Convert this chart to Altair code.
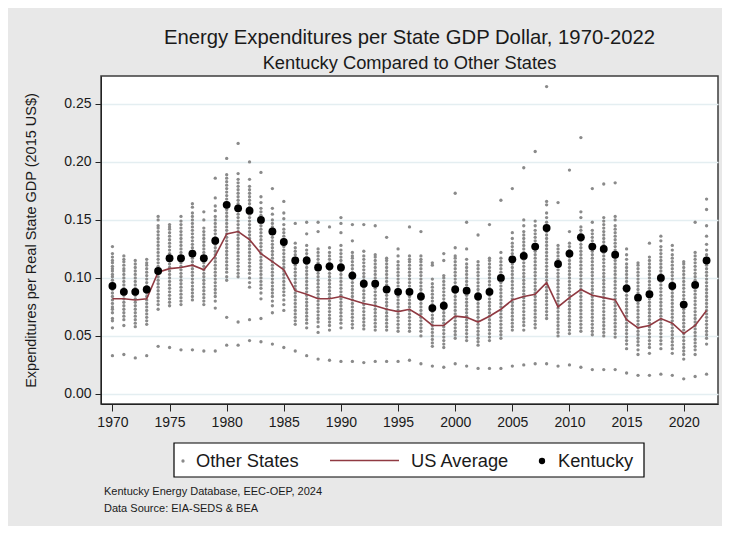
import altair as alt
import pandas as pd

FONT = "Liberation Sans"

years = list(range(1970, 2023))

kentucky = [0.093, 0.088, 0.088, 0.090, 0.106, 0.117, 0.117, 0.121, 0.117, 0.132,
            0.163, 0.160, 0.158, 0.150, 0.140, 0.131, 0.115, 0.115, 0.109, 0.110,
            0.109, 0.102, 0.095, 0.095, 0.090, 0.088, 0.088, 0.084, 0.074, 0.076,
            0.090, 0.089, 0.084, 0.088, 0.100, 0.116, 0.119, 0.127, 0.143, 0.112,
            0.121, 0.135, 0.127, 0.125, 0.120, 0.091, 0.083, 0.086, 0.100, 0.093,
            0.077, 0.094, 0.115]

us_average = [0.082, 0.082, 0.081, 0.082, 0.105, 0.108, 0.109, 0.111, 0.107, 0.119,
              0.138, 0.140, 0.133, 0.121, 0.114, 0.107, 0.089, 0.086, 0.082, 0.082,
              0.084, 0.081, 0.078, 0.076, 0.073, 0.071, 0.073, 0.067, 0.059, 0.059,
              0.067, 0.066, 0.062, 0.067, 0.073, 0.081, 0.084, 0.086, 0.096, 0.075,
              0.083, 0.090, 0.085, 0.083, 0.081, 0.064, 0.057, 0.059, 0.065, 0.061,
              0.052, 0.059, 0.072]

# Other states, values in thousandths of a dollar, one list per year
others_1970s = [
    [33, 57, 63, 65, 70, 73, 75, 78, 81, 84, 87, 90, 93, 95, 98, 101, 103, 106, 108, 110, 113, 115, 118, 121, 127],
    [34, 59, 64, 67, 70, 73, 76, 79, 82, 85, 88, 91, 94, 97, 100, 103, 106, 108, 111, 114, 116, 119],
    [31, 58, 61, 64, 67, 70, 73, 76, 79, 82, 85, 88, 91, 94, 97, 100, 103, 106, 109, 112, 115],
    [33, 60, 63, 66, 69, 72, 75, 78, 81, 84, 87, 90, 93, 96, 99, 102, 105, 108, 111, 113, 116],
    [41, 73, 77, 80, 83, 86, 89, 92, 95, 98, 101, 104, 107, 110, 113, 116, 119, 122, 125, 128, 131, 134, 137, 140, 143, 145, 150, 153],
    [40, 76, 79, 82, 85, 88, 91, 94, 97, 100, 103, 106, 109, 112, 115, 118, 121, 124, 127, 130, 133, 136, 139, 142, 144, 146],
    [38, 77, 80, 83, 86, 89, 92, 95, 98, 101, 104, 107, 110, 113, 116, 119, 122, 125, 128, 131, 134, 137, 140, 143, 146, 149, 153],
    [38, 81, 84, 87, 90, 93, 96, 99, 102, 105, 108, 111, 114, 117, 120, 123, 126, 129, 132, 135, 138, 141, 144, 147, 150, 153, 156, 161, 164],
    [37, 77, 80, 83, 86, 89, 92, 95, 98, 101, 104, 107, 110, 113, 116, 119, 122, 125, 128, 131, 134, 137, 140, 143, 150, 157],
    [37, 74, 80, 84, 87, 90, 93, 96, 99, 102, 105, 108, 111, 114, 117, 120, 123, 126, 129, 132, 135, 138, 141, 144, 147, 150, 153, 158, 162, 169, 186],
]
others_1980s = [
    [42, 66, 98, 101, 105, 108, 111, 114, 117, 120, 123, 126, 129, 132, 135, 138, 141, 144, 147, 150, 153, 156, 159, 162, 165, 168, 171, 174, 177, 180, 183, 186, 189, 203],
    [42, 62, 101, 104, 107, 110, 113, 116, 119, 122, 125, 128, 131, 134, 137, 140, 143, 146, 149, 152, 155, 158, 161, 164, 167, 170, 173, 176, 179, 182, 185, 190, 216],
    [46, 64, 92, 96, 100, 104, 107, 110, 113, 116, 119, 122, 125, 128, 131, 134, 137, 140, 143, 146, 149, 152, 155, 158, 161, 164, 167, 170, 173, 176, 179, 185, 200],
    [45, 65, 82, 87, 91, 94, 97, 100, 103, 106, 109, 112, 115, 118, 121, 124, 127, 130, 133, 136, 139, 142, 145, 148, 151, 154, 157, 160, 165, 170, 191],
    [43, 70, 76, 80, 84, 87, 90, 93, 96, 99, 102, 105, 108, 111, 114, 117, 120, 123, 126, 129, 132, 135, 138, 141, 144, 147, 150, 155, 160, 177],
    [40, 72, 77, 81, 85, 88, 91, 94, 97, 100, 103, 106, 109, 112, 115, 118, 121, 124, 127, 130, 133, 136, 139, 142, 146, 151, 156, 166],
    [37, 60, 63, 66, 69, 72, 75, 78, 81, 84, 87, 90, 93, 96, 99, 102, 105, 108, 111, 114, 117, 120, 123, 126, 130, 147],
    [33, 57, 61, 64, 67, 70, 73, 76, 79, 82, 85, 88, 91, 94, 97, 100, 103, 106, 109, 112, 115, 118, 121, 124, 128, 138, 148],
    [30, 53, 58, 62, 65, 68, 71, 74, 77, 80, 83, 86, 89, 92, 95, 98, 101, 104, 107, 110, 113, 116, 119, 122, 125, 140, 148],
    [29, 55, 59, 62, 65, 68, 71, 74, 77, 80, 83, 86, 89, 92, 95, 98, 101, 104, 107, 110, 113, 116, 119, 122, 126, 144],
]
others_1990s = [
    [28, 57, 61, 64, 67, 70, 73, 76, 79, 82, 85, 88, 91, 94, 97, 100, 103, 106, 109, 112, 115, 118, 121, 124, 128, 139, 147, 152],
    [28, 57, 60, 63, 66, 69, 72, 75, 78, 81, 84, 87, 90, 93, 96, 99, 102, 105, 108, 111, 114, 117, 119, 122, 132, 146],
    [27, 56, 59, 62, 65, 68, 71, 74, 77, 80, 83, 86, 89, 92, 95, 98, 101, 104, 107, 110, 113, 116, 119, 123, 146],
    [28, 55, 58, 61, 64, 67, 70, 73, 76, 79, 82, 85, 88, 91, 94, 97, 100, 103, 106, 109, 112, 115, 118, 120, 145],
    [28, 55, 58, 61, 64, 67, 70, 73, 76, 79, 82, 85, 88, 91, 94, 97, 100, 103, 106, 109, 112, 115, 117, 135],
    [28, 54, 57, 60, 63, 66, 69, 72, 75, 78, 81, 84, 87, 90, 93, 96, 99, 102, 105, 108, 111, 114, 119, 125],
    [29, 54, 57, 60, 63, 66, 69, 72, 75, 78, 81, 84, 87, 90, 93, 96, 99, 102, 105, 108, 111, 114, 116, 119, 144],
    [26, 50, 54, 57, 60, 63, 66, 69, 72, 75, 78, 81, 84, 87, 90, 93, 96, 99, 102, 105, 108, 111, 114, 116, 119, 140],
    [24, 41, 44, 47, 50, 53, 56, 59, 62, 65, 68, 71, 74, 77, 80, 83, 86, 89, 92, 95, 99, 111, 113],
    [23, 40, 43, 46, 49, 52, 55, 58, 61, 64, 67, 70, 73, 76, 79, 82, 85, 88, 91, 94, 97, 100, 102, 115, 121],
]
others_2000s = [
    [26, 48, 51, 54, 57, 60, 63, 66, 69, 72, 75, 78, 81, 84, 87, 90, 93, 96, 99, 102, 105, 108, 111, 114, 117, 119, 126, 173],
    [24, 46, 49, 52, 55, 58, 61, 64, 67, 70, 73, 76, 79, 82, 85, 88, 91, 94, 97, 100, 103, 106, 109, 112, 116, 125, 148],
    [22, 42, 45, 48, 51, 54, 57, 60, 63, 66, 69, 72, 75, 78, 81, 84, 87, 90, 93, 96, 99, 102, 105, 108, 111, 114, 137],
    [22, 46, 49, 52, 55, 58, 61, 64, 67, 70, 73, 76, 79, 82, 85, 88, 91, 94, 97, 100, 103, 106, 109, 112, 115, 117, 146],
    [22, 48, 51, 54, 57, 60, 63, 66, 69, 72, 75, 78, 81, 84, 87, 90, 93, 96, 99, 102, 105, 108, 111, 114, 117, 122, 167],
    [24, 55, 58, 61, 64, 67, 70, 73, 76, 79, 82, 85, 88, 91, 94, 97, 100, 103, 106, 109, 112, 115, 118, 121, 124, 127, 130, 134, 139, 177],
    [25, 55, 59, 62, 65, 68, 71, 74, 77, 80, 83, 86, 89, 92, 95, 98, 101, 104, 107, 110, 113, 116, 119, 122, 125, 128, 131, 134, 137, 140, 145, 150, 195],
    [26, 57, 60, 63, 66, 69, 72, 75, 78, 81, 84, 87, 90, 93, 96, 99, 102, 105, 108, 111, 114, 117, 120, 123, 126, 129, 132, 135, 138, 141, 145, 149, 209],
    [26, 65, 68, 71, 74, 77, 80, 83, 86, 89, 92, 95, 98, 101, 104, 107, 110, 113, 116, 119, 122, 125, 128, 131, 134, 137, 140, 144, 148, 152, 156, 163, 166, 265],
    [24, 50, 53, 56, 59, 62, 65, 68, 71, 74, 77, 80, 83, 86, 89, 92, 95, 98, 101, 104, 107, 110, 113, 116, 119, 122, 125, 128, 165],
]
others_2010s = [
    [25, 52, 55, 58, 61, 64, 67, 70, 73, 76, 79, 82, 85, 88, 91, 94, 97, 100, 103, 106, 109, 112, 115, 118, 121, 124, 127, 130, 140, 193],
    [23, 54, 57, 60, 63, 66, 69, 72, 75, 78, 81, 84, 87, 90, 93, 96, 99, 102, 105, 108, 111, 114, 117, 120, 123, 126, 129, 132, 135, 138, 141, 144, 152, 157, 221],
    [21, 51, 54, 57, 60, 63, 66, 69, 72, 75, 78, 81, 84, 87, 90, 93, 96, 99, 102, 105, 108, 111, 114, 117, 120, 123, 126, 129, 132, 135, 138, 141, 148, 177],
    [21, 50, 53, 56, 59, 62, 65, 68, 71, 74, 77, 80, 83, 86, 89, 92, 95, 98, 101, 104, 107, 110, 113, 116, 119, 122, 125, 128, 131, 134, 137, 140, 143, 146, 149, 152, 181],
    [21, 49, 52, 55, 58, 61, 64, 67, 70, 73, 76, 79, 82, 85, 88, 91, 94, 97, 100, 103, 106, 109, 112, 115, 118, 121, 124, 127, 130, 133, 136, 139, 142, 145, 150, 153, 182],
    [18, 39, 43, 46, 49, 52, 55, 58, 61, 64, 67, 70, 73, 76, 79, 82, 85, 88, 91, 94, 97, 100, 103, 106, 109, 112, 116, 120, 125],
    [16, 34, 38, 42, 45, 48, 51, 54, 57, 60, 63, 66, 69, 72, 75, 78, 81, 84, 87, 90, 93, 96, 99, 102, 105, 108, 111, 113],
    [16, 35, 40, 43, 46, 49, 52, 55, 58, 61, 64, 67, 70, 73, 76, 79, 82, 85, 88, 91, 94, 97, 100, 103, 106, 109, 112, 115, 118, 130],
    [17, 39, 43, 46, 49, 52, 55, 58, 61, 64, 67, 70, 73, 76, 79, 82, 85, 88, 91, 94, 97, 100, 103, 106, 109, 112, 115, 118, 121, 124, 127, 132, 136],
    [16, 35, 39, 42, 45, 48, 51, 54, 57, 60, 63, 66, 69, 72, 75, 78, 81, 84, 87, 90, 93, 96, 99, 102, 105, 108, 111, 114, 117, 120, 124, 128],
]
others_2020s = [
    [13, 30, 34, 37, 40, 43, 46, 49, 52, 55, 58, 61, 64, 67, 70, 73, 76, 79, 82, 85, 88, 91, 94, 97, 100, 103, 106, 109, 112, 114],
    [15, 34, 38, 41, 44, 47, 50, 53, 56, 59, 62, 65, 68, 71, 74, 77, 80, 83, 86, 89, 92, 95, 98, 101, 104, 107, 110, 113, 116, 119, 122, 148],
    [17, 43, 48, 51, 54, 57, 60, 63, 66, 69, 72, 75, 78, 81, 84, 87, 90, 93, 96, 99, 102, 105, 108, 111, 114, 117, 120, 124, 129, 136, 145, 159, 168],
]

x_ticks = list(range(1970, 2021, 5))
y_ticks = [0.0, 0.05, 0.10, 0.15, 0.20, 0.25]

legend_labels = ["Other States", "US Average", "Kentucky"]
notes = ["Kentucky Energy Database, EEC-OEP, 2024", "Data Source: EIA-SEDS & BEA"]

# ---- build tables ----
all_others = others_1970s + others_1980s + others_1990s + others_2000s + others_2010s + others_2020s
other_rows = []
for yr, vals in zip(years, all_others):
    for v in vals:
        other_rows.append({"year": yr, "value": v / 1000.0})
others_df = pd.DataFrame(other_rows)
main_df = pd.DataFrame({"year": years, "ky": kentucky, "us": us_average})
one = pd.DataFrame({"k": [0]})

TXT = "#1a1a1a"

x_enc = alt.X("year:Q",
              scale=alt.Scale(domain=[1969, 2023], nice=False, zero=False),
              axis=alt.Axis(values=x_ticks, format="d", title=None, grid=False,
                            labelFont=FONT, labelFontSize=14, labelColor=TXT,
                            tickSize=7, tickColor="#222222", domainColor="#222222",
                            labelPadding=4, labelFlush=False))
y_scale = alt.Scale(domain=[-0.0087, 0.2741], nice=False, zero=False)
y_enc = alt.Y("value:Q", scale=y_scale,
              axis=alt.Axis(values=y_ticks, format=".2f",
                            title="Expenditures per Real State GDP (2015 US$)",
                            titleFont=FONT, titleFontSize=14.5, titleFontWeight="normal",
                            titleColor=TXT, titlePadding=25,
                            grid=True, gridColor="#e4eef1", gridWidth=1.5,
                            labelFont=FONT, labelFontSize=14, labelColor=TXT,
                            tickSize=6, tickColor="#222222", domainColor="#222222",
                            labelPadding=4, labelFlush=False))

gray = alt.Chart(others_df).mark_circle(size=11, color="#8a8a8a", opacity=1).encode(
    x=x_enc, y=y_enc)

line = alt.Chart(main_df).mark_line(color="#903a42", strokeWidth=1.6).encode(
    x="year:Q", y=alt.Y("us:Q", scale=y_scale))

ky = alt.Chart(main_df).mark_circle(size=62, color="black", opacity=1).encode(
    x="year:Q", y=alt.Y("ky:Q", scale=y_scale))

# ---- legend box (drawn below the plot) ----
leg_box = alt.Chart(one).mark_rect(fill="white", stroke="black", strokeWidth=1.2).encode(
    x=alt.value(73), x2=alt.value(543), y=alt.value(367), y2=alt.value(401))
leg_dot1 = alt.Chart(one).mark_circle(size=11, color="#8a8a8a", opacity=1).encode(
    x=alt.value(82), y=alt.value(385))
leg_line = alt.Chart(one).mark_rule(color="#903a42", strokeWidth=1.6).encode(
    x=alt.value(229), x2=alt.value(298), y=alt.value(384.5))
leg_dot2 = alt.Chart(one).mark_circle(size=40, color="black", opacity=1).encode(
    x=alt.value(441), y=alt.value(385))
leg_txt = [
    alt.Chart(one).mark_text(align="left", baseline="middle", font=FONT, fontSize=18.3, color=TXT).encode(
        x=alt.value(xp), y=alt.value(386), text=alt.value(lbl))
    for xp, lbl in zip([95, 310, 457], legend_labels)
]
note_txt = [
    alt.Chart(one).mark_text(align="left", baseline="middle", font=FONT, fontSize=11, color=TXT).encode(
        x=alt.value(3), y=alt.value(yp), text=alt.value(t))
    for yp, t in zip([416, 433], notes)
]

chart = alt.layer(gray, line, ky, leg_box, leg_dot1, leg_line, leg_dot2, *leg_txt, *note_txt).properties(
    width=617, height=328,
    autosize="none",
    padding={"left": 93, "top": 68, "right": 4, "bottom": 122},
    background="#e8e8e8",
    title=alt.Title("Energy Expenditures per State GDP Dollar, 1970-2022",
                    subtitle="Kentucky Compared to Other States",
                    anchor="middle", font=FONT, fontSize=20.3, fontWeight="normal", color=TXT,
                    subtitleFont=FONT, subtitleFontSize=18.3, subtitleColor=TXT,
                    subtitlePadding=6, offset=4),
).configure_view(fill="white", stroke="#3c3c3c", strokeWidth=1.5)

chart.save("out.html", embed_options={"renderer": "svg", "actions": False})
